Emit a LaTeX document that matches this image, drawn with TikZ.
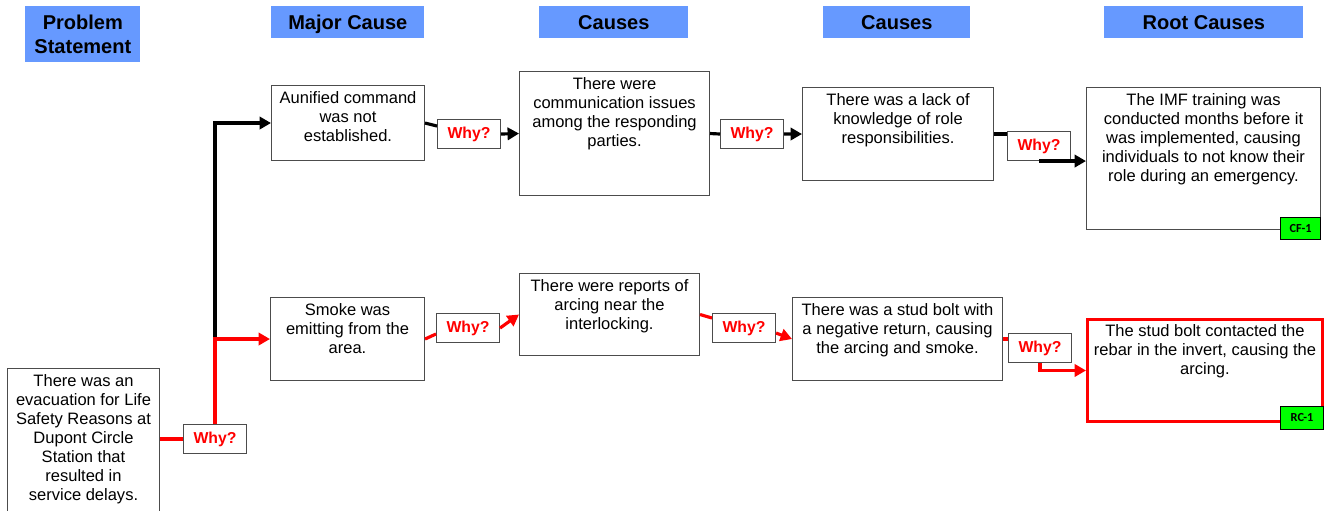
\documentclass[tikz,border=0pt]{standalone}
\usepackage{fontspec}
\setmainfont{Liberation Sans}
\newfontfamily\tagfont{Carlito}
\usetikzlibrary{
   arrows.meta,
   calc
}
\definecolor{headblue}{RGB}{102,153,255}
\definecolor{whyred}{RGB}{255,0,0}
\definecolor{taggreen}{RGB}{0,255,0}

\begin{document}
\begin{tikzpicture}[
  x=0.02cm, y=-0.02cm,
  every node/.style={font=\fontsize{9.4}{10.8}\selectfont},
  header/.style={fill=headblue, font=\fontsize{11.4}{13.6}\selectfont\bfseries,
    align=center, inner sep=0pt, anchor=north west},
  oneline/.style={text height=8.2pt, text depth=0pt},
  causebox/.style={draw=black!70, line width=0.6pt, fill=white,
    anchor=north west, inner sep=0pt},
  causetext/.style={anchor=north, align=center, inner sep=3.5pt},
  whybox/.style={draw=black!70, line width=0.6pt, fill=white, text=whyred,
    font=\fontsize{9}{10.8}\selectfont\bfseries, minimum width=1.26cm,
    minimum height=0.58cm, inner sep=0pt, anchor=north west},
  tagbox/.style={draw=black, line width=0.5pt, fill=taggreen,
    font=\tagfont\fontsize{7}{8}\selectfont\bfseries, inner sep=0pt, anchor=east},
  link/.style={line width=1.8pt},
  redlink/.style={link, draw=whyred},
  arr/.style={-{Triangle[length=6.5pt,width=7pt]}},
]

\useasboundingbox (0,0) rectangle (1337,510);

% column headers
\node[header, minimum width=2.3cm, minimum height=1.12cm] (H0) at (25,6) {Problem\\Statement};
\node[header, oneline, minimum width=3.06cm, minimum height=0.64cm] (H1) at (271,6) {Major Cause};
\node[header, oneline, minimum width=2.98cm, minimum height=0.64cm] (H2) at (539,6) {Causes};
\node[header, oneline, minimum width=2.94cm, minimum height=0.64cm] (H3) at (823,6) {Causes};
\node[header, oneline, minimum width=3.98cm, minimum height=0.64cm] (H4) at (1104,6) {Root Causes};

% problem statement
\node[causebox, minimum width=3.04cm, minimum height=2.9cm] (PS) at (7,368) {};
\node[causetext] (PSt) at (PS.north) {There was an\\evacuation for Life\\Safety Reasons at\\Dupont Circle\\Station that\\resulted in\\service delays.};
\node[whybox] (W0) at (183,424) {Why?};

% upper chain
\node[causebox, minimum width=3.06cm, minimum height=1.5cm] (A1) at (271,85) {};
\node[causetext] (A1t) at (A1.north) {Aunified command\\was not\\established.};
\node[whybox] (WA1) at (437,119) {Why?};
\node[causebox, minimum width=3.8cm, minimum height=2.48cm] (B1) at (519,71) {};
\node[causetext] (B1t) at (B1.north) {There were\\communication issues\\among the responding\\parties.};
\node[whybox] (WB1) at (720,119) {Why?};
\node[causebox, minimum width=3.82cm, minimum height=1.86cm] (C1) at (802,87) {};
\node[causetext] (C1t) at (C1.north) {There was a lack of\\knowledge of role\\responsibilities.};
\node[whybox] (WC1) at (1007,131) {Why?};
\node[causebox, minimum width=4.68cm, minimum height=2.84cm] (D1) at (1086,87) {};
\node[causetext] (D1t) at (D1.north) {The IMF training was\\conducted months before it\\was implemented, causing\\individuals to not know their\\role during an emergency.};
\node[tagbox, minimum width=0.8cm, minimum height=0.44cm] (CF) at ($(D1.south east)+(0,-2)$) {CF-1};

% lower chain
\node[causebox, minimum width=3.08cm, minimum height=1.66cm] (A2) at (270,297) {};
\node[causetext] (A2t) at (A2.north) {Smoke was\\emitting from the\\area.};
\node[whybox] (WA2) at (436,313) {Why?};
\node[causebox, minimum width=3.6cm, minimum height=1.64cm] (B2) at (519,273) {};
\node[causetext] (B2t) at (B2.north) {There were reports of\\arcing near the\\interlocking.};
\node[whybox] (WB2) at (712,313) {Why?};
\node[causebox, minimum width=4.2cm, minimum height=1.66cm] (C2) at (792,297) {};
\node[causetext] (C2t) at (C2.north) {There was a stud bolt with\\a negative return, causing\\the arcing and smoke.};
\node[whybox] (WC2) at (1008,333) {Why?};
\node[causebox, draw=whyred, line width=1.7pt, minimum width=4.7cm, minimum height=2.04cm] (E2) at (1086,318) {};
\node[causetext] (E2t) at (E2.north) {The stud bolt contacted the\\rebar in the invert, causing the\\arcing.};
\node[tagbox, minimum width=0.86cm, minimum height=0.46cm] (RC) at ($(E2.south east)+(0,-5)$) {RC-1};

% branch from the problem statement
\draw[redlink] (W0.west -| PS.east) -- (W0.west);
\draw[link, arr] (W0.north) |- (A1.west);
\draw[redlink, arr] (W0.north) |- (A2.west);

% upper links
\draw[link] (A1.east) -- ($(WA1.west)+(0,-8)$);
\draw[link, arr] (WA1.east) -- (B1.west);
\draw[link] (B1.east) -- (WB1.west);
\draw[link, arr] (WB1.east) -- (C1.west);
\draw[link] (C1.east) -- (C1.east -| WC1.west);
\draw[link, arr] (WC1.south) -- (WC1.south -| D1.west);

% lower links
\draw[redlink] (A2.east) -- ($(WA2.west)+(0,6)$);
\draw[redlink, arr] (WA2.east) -- (B2.west);
\draw[redlink] (B2.east) -- ($(WB2.west)+(0,-10)$);
\draw[redlink, arr] ($(WB2.east)+(0,5)$) -- (C2.west);
\draw[redlink] (C2.east) -- (C2.east -| WC2.west);
\draw[redlink, arr] (WC2.south) |- (E2.west);

\end{tikzpicture}
\end{document}
